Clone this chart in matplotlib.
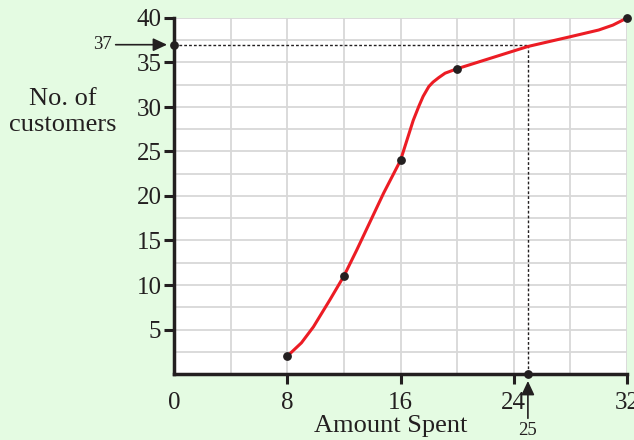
import numpy as np
import matplotlib
matplotlib.use("Agg")
import matplotlib.pyplot as plt

# plotted data points (amount spent, cumulative no. of customers)
amount = [8, 12, 16, 20, 32]
customers = [2, 11, 24, 34.3, 40]

# points
curve_x = [8, 9, 9.85, 11, 12, 12.9, 13.85, 14.8, 16, 16.5, 16.9, 17.3, 17.6, 18.0,
           18.3, 18.7, 19.15, 20, 21.5, 23, 25, 28, 30, 31, 32]
curve_y = [2, 3.5, 5.3, 8.3, 11, 13.9, 17.1, 20.3, 24, 26.5, 28.5, 30.1, 31.2, 32.3,
           32.8, 33.3, 33.8, 34.3, 35.05, 35.8, 36.8, 37.9, 38.65, 39.2, 40]

# reading off the graph
read_y = 37
read_x = 25

x_ticks = [0, 8, 16, 24, 32]
y_ticks = [5, 10, 15, 20, 25, 30, 35, 40]

bg = "#e4fbe2"
ink = "#231f20"
font = "Liberation Serif"

fig = plt.figure(figsize=(6.34, 4.4), dpi=100, facecolor=bg)
ax = fig.add_axes([174/634, 1 - 374/440, 453/634, 356/440])
ax.set_facecolor("white")

ax.set_xlim(0, 32)
ax.set_ylim(0, 40)

ax.set_xticks(x_ticks)
ax.set_xticks(np.arange(4, 32, 8), minor=True)
ax.set_yticks(y_ticks)
ax.set_yticks(np.arange(2.5, 40, 5), minor=True)
ax.grid(True, which="both", color="#d8d8d8", lw=1.3, zorder=0)
ax.tick_params(which="minor", length=0)
ax.tick_params(which="major", length=7, width=2.2, color=ink, labelcolor=ink,
               labelsize=18)
ax.tick_params(axis="y", pad=2)
ax.tick_params(axis="x", pad=6)
for lab in ax.get_xticklabels() + ax.get_yticklabels():
    lab.set_family(font)
ax.xaxis.get_major_ticks()[0].tick1line.set_visible(False)

for s in ["top", "right"]:
    ax.spines[s].set_visible(False)
for s in ["left", "bottom"]:
    ax.spines[s].set_linewidth(2.5)
    ax.spines[s].set_color(ink)
    ax.spines[s].set_zorder(5)

# dotted read-off lines
ax.plot([0, read_x], [read_y, read_y], ls=(0, (2, 1.5)), lw=1, color=ink, zorder=3)
ax.plot([read_x, read_x], [read_y, 0], ls=(0, (2, 1.5)), lw=1, color=ink, zorder=3)

ax.plot(curve_x, curve_y, color="#ec1c24", lw=2.2, zorder=4,
        solid_capstyle="round", solid_joinstyle="round")
ax.scatter(amount, customers, s=28, color=ink, zorder=6, clip_on=False)
ax.scatter([0, read_x], [read_y, 0], s=28, color=ink, zorder=6, clip_on=False)

arrow = dict(arrowstyle="-|>,head_length=0.6,head_width=0.28", color=ink, lw=1.2,
             shrinkA=1, shrinkB=5, mutation_scale=14)
ax.annotate(str(read_y), xy=(0, read_y), xytext=(-45, 0), textcoords="offset points",
            ha="right", va="center", fontsize=13.5, family=font, color=ink,
            arrowprops=arrow, annotation_clip=False)
ax.annotate(str(read_x), xy=(read_x, 0), xytext=(0, -41), textcoords="offset points",
            ha="center", va="center", fontsize=13.5, family=font, color=ink,
            arrowprops=arrow, annotation_clip=False)

fig.text(63/634, 1 - 112/440, "No. of\ncustomers", ha="center", va="center",
         fontsize=19, family=font, color=ink, linespacing=1.25)
fig.text(391/634, 1 - 426/440, "Amount Spent", ha="center", va="center",
         fontsize=19, family=font, color=ink)

fig.savefig("out.png", dpi=100, facecolor=bg)
